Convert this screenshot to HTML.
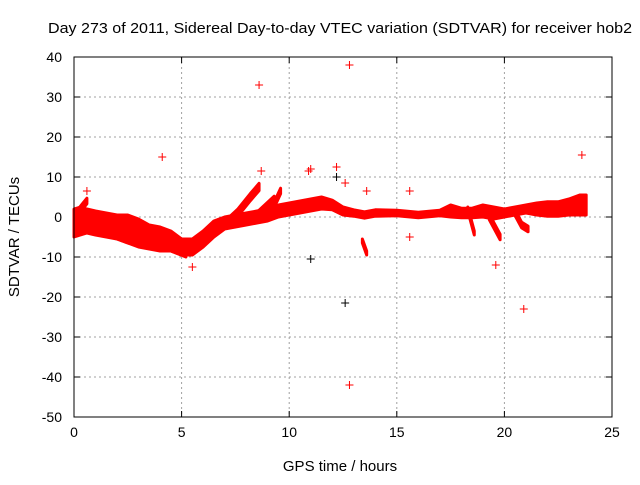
<!DOCTYPE html>
<html><head><meta charset="utf-8"><style>
body{margin:0;background:#fff;}
svg text{font-family:"Liberation Sans",sans-serif;font-size:14px;fill:#000;}
</style></head><body>
<svg id="chart" width="640" height="480" viewBox="0 0 640 480">
<text x="340" y="33" text-anchor="middle" textLength="584" lengthAdjust="spacingAndGlyphs" style="font-size:15px">Day 273 of 2011, Sidereal Day-to-day VTEC variation (SDTVAR) for receiver hob2</text>
<text x="340" y="471" text-anchor="middle" style="font-size:15px">GPS time / hours</text>
<text transform="translate(19,237) rotate(-90)" text-anchor="middle" style="font-size:15px">SDTVAR / TECUs</text>
<g id="grid"></g>
<g id="ticks"></g>
<g id="marks"></g>
<rect x="74" y="57" width="538" height="360" fill="none" stroke="#000" stroke-width="1"/>
</svg>
<script>
const xTicks=[0,5,10,15,20,25];
const yTicks=[40,30,20,10,0,-10,-20,-30,-40,-50];
const mainHours=[0,0.3,0.6,1,1.5,2,2.5,3,3.5,4,4.5,5,5.5,6,6.5,7,7.5,8,8.5,9,9.5,10,10.5,11,11.5,12,12.5,13,13.5,14,15,16,17,17.5,18,18.5,19,19.5,20,20.5,21,21.5,22,22.5,23,23.5,23.8];
const mainValues=[-1.5,-1,-1,-1.5,-2,-2.5,-3,-4,-5,-5.5,-6,-7.5,-7.5,-5.5,-3,-1.5,-1,-0.5,0,0.5,1.5,2,2.5,3,3.5,3,1.5,1,0.5,1,1,0.5,1,1.5,1,1,1.5,1,1,1.5,2,2,2,2,2.5,3,3];
const mainSpread=[3.5,3.5,3,3,3,3,3.5,3.5,3,3,2.5,2,2,2,2,1.5,1.5,1.5,1.5,1.5,1.5,1.5,1.5,1.5,1.5,1.2,1,0.8,0.8,0.8,0.7,0.7,0.7,1.5,1.2,1.2,1.5,1.5,1,1,1,1.5,1.8,1.8,2,2.5,2.5];
const lowHours=[1.5,2.5,3.5,4.5,5.2];
const lowValues=[-3,-5,-6,-7,-8.5];
const branch1Hours=[7,7.6,8.2,8.6];
const branch1Values=[-2,1,5,7.5];
const branch2Hours=[8.2,8.8,9.3];
const branch2Values=[-1,2,4.5];
const branch3Hours=[9,9.3,9.6];
const branch3Values=[0,3,6.5];
const branch4Hours=[0,0.3,0.6];
const branch4Values=[0,2,4];
const dip1Hours=[19.3,19.6,19.8];
const dip1Values=[0,-3,-5];
const dip2Hours=[20.5,20.8,21.1];
const dip2Values=[1,-2,-3];
const dip3Hours=[13.4,13.6];
const dip3Values=[-6,-9];
const dip4Hours=[18.3,18.6];
const dip4Values=[2,-4];
const redOutHours=[4.1,8.6,12.8,12.8,20.9,19.6,23.6,8.7,12.2,11,13.6,15.6,0.6,12.6,15.6,5.5,10.9];
const redOutValues=[15,33,38,-42,-23,-12,15.5,11.5,12.5,12,6.5,-5,6.5,8.5,6.5,-12.5,11.5];
const blackOutHours=[12.6,11,12.2];
const blackOutValues=[-21.5,-10.5,10];
const X0=74,X1=612,Y0=417,Y1=57;
const xs=v=>X0+(v-0)/25*(X1-X0);
const ys=v=>Y0-(v+50)/90*(Y0-Y1);
const NS='http://www.w3.org/2000/svg';
const grid=document.getElementById('grid'),ticks=document.getElementById('ticks'),marks=document.getElementById('marks');
function mk(t,a,p){const e=document.createElementNS(NS,t);for(const k in a)e.setAttribute(k,a[k]);p.appendChild(e);return e;}
xTicks.forEach(v=>{const x=xs(v);
 if(v>0&&v<25){const g=mk('line',{x1:x,x2:x,y1:Y1,y2:Y0,stroke:'#a0a0a0','stroke-dasharray':'2,3'},grid);
 
 }
 const t=mk('text',{x:x,y:Y0+20,'text-anchor':'middle'},ticks);t.textContent=v;
 
 
 mk('line',{x1:x,x2:x,y1:Y0,y2:Y0-6,stroke:'#000'},ticks);mk('line',{x1:x,x2:x,y1:Y1,y2:Y1+6,stroke:'#000'},ticks);});
yTicks.forEach(v=>{const y=ys(v);
 if(v<40&&v>-50){const g=mk('line',{x1:X0,x2:X1,y1:y,y2:y,stroke:'#a0a0a0','stroke-dasharray':'2,3'},grid);
 
 }
 const t=mk('text',{x:X0-12,y:y+5,'text-anchor':'end'},ticks);t.textContent=v;
 
 
 mk('line',{x1:X0,x2:X0+6,y1:y,y2:y,stroke:'#000'},ticks);mk('line',{x1:X1,x2:X1-6,y1:y,y2:y,stroke:'#000'},ticks);});
function band(hs,vs,sp){
 const up=hs.map((h,i)=>xs(h)+','+ys(vs[i]+sp[i]));
 const lo=hs.map((h,i)=>xs(h)+','+ys(vs[i]-sp[i])).reverse();
 const p=mk('polygon',{points:up.concat(lo).join(' '),fill:'#ff0000',stroke:'#ff0000','stroke-width':3,'stroke-linejoin':'round'},marks);
 
 
}
band(mainHours,mainValues,mainSpread);
const thin=(hs,vs,s)=>band(hs,vs,hs.map(()=>s));
thin(lowHours,lowValues,1.5);
thin(branch1Hours,branch1Values,0.9);
thin(branch2Hours,branch2Values,0.7);
thin(branch3Hours,branch3Values,0.7);
thin(branch4Hours,branch4Values,0.7);
thin(dip1Hours,dip1Values,0.7);
thin(dip2Hours,dip2Values,0.7);
thin(dip3Hours,dip3Values,0.5);
thin(dip4Hours,dip4Values,0.5);
function plus(h,v,c){const x=xs(h),y=ys(v);
 const p=mk('path',{d:`M${x-4} ${y}H${x+4}M${x} ${y-4}V${y+4}`,stroke:c,'stroke-width':1},marks);
 
 }
redOutHours.forEach((h,i)=>plus(h,redOutValues[i],'#ff0000'));
blackOutHours.forEach((h,i)=>plus(h,blackOutValues[i],'#000'));
</script>
</body></html>
